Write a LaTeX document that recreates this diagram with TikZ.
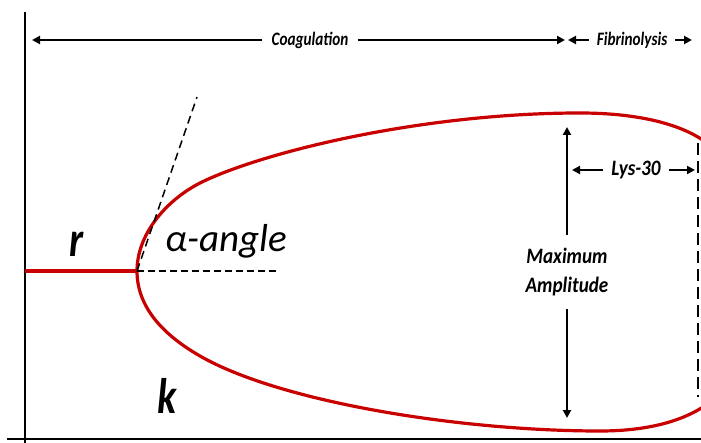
\documentclass[tikz,border=0pt]{standalone}
\usepackage{fontspec}
\setmainfont{Carlito}
\usetikzlibrary{arrows.meta}
\definecolor{curvered}{RGB}{200,0,0}
\newcommand\toptxt[1]{\scalebox{0.8}[1]{\bfseries\itshape #1}}
\newcommand\sidetxt[1]{\scalebox{0.87}[1]{\bfseries\itshape #1}}
\newcommand\bigtxt[1]{\scalebox{0.8}[1]{\bfseries\itshape #1}}
\begin{document}
\begin{tikzpicture}[x=1pt,y=-1pt,
  arr/.style={line width=2.6pt,-{Triangle[length=8pt,width=8pt]}},
  axisline/.style={line width=2.2pt,black},
  redline/.style={line width=3.2pt,curvered},
  dashline/.style={line width=1.5pt,dash pattern=on 8pt off 5pt},
  lbl/.style={inner xsep=9pt,inner ysep=2pt},
  topfont/.style={font=\fontsize{19}{22}\selectfont},
  sidefont/.style={font=\fontsize{22}{29}\selectfont},
  bigfont/.style={font=\fontsize{50}{55}\selectfont},
]
\useasboundingbox (0,0) rectangle (701,443);
% axes
\coordinate (axTop) at (25,12);
\coordinate (axBot) at (25,443);
\coordinate (axL) at (7,439);
\coordinate (axR) at (701,439);
\draw[axisline] (axTop) -- (axBot);
\draw[axisline,line width=2.6pt] (axL) -- (axR);
% red curve
\coordinate (r0) at (25,271);
\coordinate (v) at (137,271);
\draw[redline] (r0) -- (v);
\begin{scope}
\clip (0,0) rectangle (701,443);
\draw[redline,line join=round]
  (715,150) .. controls (690,125) and (640,113) .. (580,113)
  .. controls (420,113) and (260,153) .. (200,183)
  .. controls (165,201) and (137,235) .. (v)
  .. controls (137,305) and (160,333) .. (200,356)
  .. controls (280,402) and (460,431) .. (600,431)
  .. controls (650,431) and (690,420) .. (715,398);
\end{scope}
% dashed helpers
\coordinate (tanEnd) at (197,97);
\coordinate (horEnd) at (277,271);
\draw[dashline] (v) -- (tanEnd);
\draw[line width=1.5pt,dash pattern=on 7pt off 4pt] (v) -- (horEnd);
\coordinate (dvTop) at (698,143);
\coordinate (dvBot) at (698,397);
\draw[line width=2pt,dash pattern=on 12pt off 6pt] (dvTop) -- (dvBot);
% top labels
\node[lbl,topfont] (coag) at (310,40) {\toptxt{Coagulation}};
\coordinate (coagL) at (32,40);
\coordinate (coagR) at (565,40);
\draw[arr] (coag.west) -- (coagL);
\draw[arr] (coag.east) -- (coagR);
\node[lbl,topfont,inner xsep=8pt] (fib) at (632,40) {\toptxt{Fibrinolysis}};
\coordinate (fibL) at (568,40);
\coordinate (fibR) at (692,40);
\draw[arr] (fib.west) -- (fibL);
\draw[arr] (fib.east) -- (fibR);
% Lys-30
\node[lbl,sidefont,inner xsep=8pt] (lys) at (636,170) {\sidetxt{Lys-30}};
\coordinate (lysL) at (572,170);
\coordinate (lysR) at (695,170);
\draw[arr] (lys.west) -- (lysL);
\draw[arr] (lys.east) -- (lysR);
% maximum amplitude
\node[sidefont,align=center,inner ysep=13pt,inner xsep=0pt] (ma) at (567,272)
  {\sidetxt{Maximum}\\\sidetxt{Amplitude}};
\coordinate (maT) at (567,127);
\coordinate (maB) at (567,418);
\draw[arr] (ma.north) -- (maT);
\draw[arr] (ma.south) -- (maB);
% big labels
\node[bigfont] (r) at (77,244) {\bigtxt{r}};
\node[bigfont] (k) at (167,396) {\bigtxt{k}};
\node[font=\fontsize{39}{44}\selectfont] (alpha) at (226,241) {\itshape α-angle};
\end{tikzpicture}
\end{document}
